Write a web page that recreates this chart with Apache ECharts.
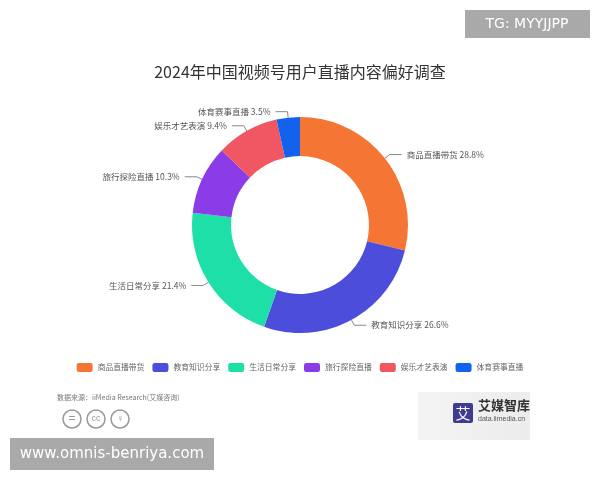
<!DOCTYPE html>
<html><head><meta charset="utf-8">
<script src="https://cdn.jsdelivr.net/npm/echarts@6/dist/echarts.min.js"></script>
<style>html,body{margin:0;padding:0;background:#fff}#c{width:600px;height:480px}</style>
</head><body><div id="c"></div>
<script>
const categories = ['商品直播带货','教育知识分享','生活日常分享','旅行探险直播','娱乐才艺表演','体育赛事直播'];
const values = [28.8, 26.6, 21.4, 10.3, 9.4, 3.5];
const colors = ['#F47534','#4C4EDB','#1FDFA8','#8B3CE6','#F15763','#1262EE'];
const title = '2024年中国视频号用户直播内容偏好调查';
const source = '数据来源：iiMedia Research(艾媒咨询)';

const chart = echarts.init(document.getElementById('c'));
chart.setOption({
  backgroundColor: '#fff',
  color: colors,
  title: { text: title, left: 'center', top: 59, textStyle: { fontSize: 16, fontWeight: 'normal', color: '#333', fontFamily: 'Noto Sans CJK SC' } },
  legend: {
    data: categories, top: 358, left: 'center', itemWidth: 16, itemHeight: 9, itemGap: 8,
    icon: 'roundRect',
    textStyle: { fontSize: 7.8, color: '#666', fontFamily: 'Noto Sans CJK SC' }
  },
  series: [{
    type: 'pie', center: [300, 225], radius: [69, 108], startAngle: 90, clockwise: true,
    data: categories.map((n, i) => ({ name: n, value: values[i] })),
    label: { formatter: '{b} {c}%', fontSize: 8.5, color: '#555', fontFamily: 'Noto Sans CJK SC' },
    labelLine: { length: 6, length2: 12, lineStyle: { color: '#888', width: 1 } },
    emphasis: { disabled: true }
  }],
  graphic: [
    { type: 'text', left: 57, top: 394, style: { text: source, fontSize: 7, fill: '#777', fontFamily: 'Noto Sans CJK SC' } },
    { type: 'circle', shape: { cx: 72, cy: 419, r: 9 }, style: { fill: 'none', stroke: '#999', lineWidth: 1.5 } },
    { type: 'text', x: 72, y: 419, style: { text: '=', fontSize: 12, fill: '#999', align: 'center', verticalAlign: 'middle' } },
    { type: 'circle', shape: { cx: 96, cy: 419, r: 9 }, style: { fill: 'none', stroke: '#999', lineWidth: 1.5 } },
    { type: 'text', x: 96, y: 419, style: { text: 'cc', fontSize: 9, fill: '#999', align: 'center', verticalAlign: 'middle' } },
    { type: 'circle', shape: { cx: 120, cy: 419, r: 9 }, style: { fill: 'none', stroke: '#999', lineWidth: 1.5 } },
    { type: 'text', x: 120, y: 419, style: { text: '♀', fontSize: 11, fill: '#999', align: 'center', verticalAlign: 'middle' } },
    { type: 'rect', shape: { x: 418, y: 392, width: 112, height: 48 }, style: { fill: new echarts.graphic.LinearGradient(0,0,1,0,[{offset:0,color:'#f4f4f4'},{offset:1,color:'#ececec'}]) } },
    { type: 'rect', shape: { x: 453, y: 403, width: 20, height: 20, r: 2 }, style: { fill: '#3f3b8f' } },
    { type: 'text', x: 463, y: 413, style: { text: '艾', fontSize: 15, fill: '#fff', align: 'center', verticalAlign: 'middle', fontFamily: 'Noto Sans CJK SC' } },
    { type: 'text', x: 478, y: 399, style: { text: '艾媒智库', fontSize: 13, fill: '#333', fontWeight: 'bold', fontFamily: 'Noto Sans CJK SC' } },
    { type: 'text', x: 478, y: 416, style: { text: 'data.iimedia.cn', fontSize: 7, fill: '#555' } },
    { type: 'rect', shape: { x: 10, y: 438, width: 204, height: 32 }, style: { fill: '#a9a9a9' } },
    { type: 'text', x: 112, y: 454, style: { text: 'www.omnis-benriya.com', fontSize: 15, fill: '#fff', align: 'center', verticalAlign: 'middle', fontFamily: 'DejaVu Sans' } },
    { type: 'rect', shape: { x: 465, y: 10, width: 125, height: 28 }, style: { fill: '#a9a9a9' } },
    { type: 'text', x: 527, y: 24, style: { text: 'TG: MYYJJPP', fontSize: 14, fill: '#fff', align: 'center', verticalAlign: 'middle', fontFamily: 'DejaVu Sans' } }
  ]
});
</script></body></html>
